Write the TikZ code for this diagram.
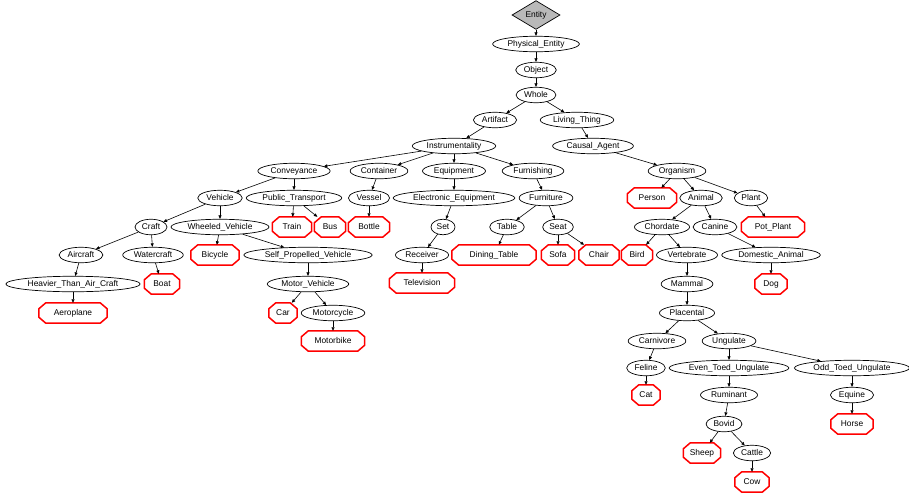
\documentclass[tikz,border=0pt]{standalone}
\usepackage{fontspec}
\setmainfont{Liberation Sans}
\usetikzlibrary{shapes.geometric,arrows.meta}

\begin{document}
\begin{tikzpicture}[x=1pt, y=-1pt,
    every node/.style={font=\fontsize{8.4}{10}\selectfont, text height=6pt, text depth=1.8pt},
    concept/.style={draw, ellipse, line width=0.7pt, inner xsep=2.2pt, inner ysep=1pt, minimum height=15.5pt},
    leaf/.style={rectangle, inner sep=0pt, minimum height=20pt, minimum width=#1},
    octagon/.style={draw=red, line width=1.5pt, line join=miter},
    root/.style={draw, diamond, fill=gray!55, line width=0.7pt, inner sep=0pt, minimum width=48pt, minimum height=22pt},
    link/.style={line width=0.6pt, -{Triangle[length=3.5pt,width=3pt]}}]
  \useasboundingbox (0,0) rectangle (909,493);

  % Top of the hierarchy
  \node[root] (entity) at (536,15) {Entity};
  \node[concept] (physical) at (536,44) {Physical\_Entity};
  \node[concept] (object) at (536,70) {Object};
  \node[concept] (whole) at (536,95) {Whole};
  \node[concept] (artifact) at (495,120) {Artifact};
  \node[concept] (living) at (577,120) {Living\_Thing};
  \node[concept] (instr) at (454,146) {Instrumentality};
  \node[concept] (causal) at (593,146) {Causal\_Agent};

  % Artifacts
  \node[concept] (conveyance) at (294,171) {Conveyance};
  \node[concept] (container) at (379,171) {Container};
  \node[concept] (equipment) at (454,171) {Equipment};
  \node[concept] (furnishing) at (533,171) {Furnishing};
  \node[concept] (vehicle) at (220,198) {Vehicle};
  \node[concept] (publictr) at (294,198) {Public\_Transport};
  \node[concept] (vessel) at (369,198) {Vessel};
  \node[concept] (electronic) at (454,198) {Electronic\_Equipment};
  \node[concept] (furniture) at (546,198) {Furniture};
  \node[concept] (craft) at (151,227) {Craft};
  \node[concept] (wheeled) at (220,227) {Wheeled\_Vehicle};
  \node[leaf=39pt] (train) at (292,227) {Train};
  \node[leaf=31pt] (bus) at (330,227) {Bus};
  \node[leaf=41pt] (bottle) at (369,227) {Bottle};
  \node[concept] (set) at (443,227) {Set};
  \node[concept] (table) at (507,227) {Table};
  \node[concept] (seat) at (558,227) {Seat};
  \node[concept] (aircraft) at (81,255) {Aircraft};
  \node[concept] (watercraft) at (153,255) {Watercraft};
  \node[leaf=48pt] (bicycle) at (215,255) {Bicycle};
  \node[concept] (selfprop) at (308,255) {Self\_Propelled\_Vehicle};
  \node[concept] (receiver) at (422,255) {Receiver};
  \node[leaf=84pt] (dining) at (494,255) {Dining\_Table};
  \node[leaf=33pt] (sofa) at (558,255) {Sofa};
  \node[leaf=40pt] (chair) at (599,255) {Chair};
  \node[concept] (heavier) at (73,284) {Heavier\_Than\_Air\_Craft};
  \node[leaf=35pt] (boat) at (162,284) {Boat};
  \node[concept] (motorveh) at (308,284) {Motor\_Vehicle};
  \node[leaf=65pt] (television) at (422,283) {Television};
  \node[leaf=68pt] (aeroplane) at (73,313) {Aeroplane};
  \node[leaf=28pt] (car) at (283,313) {Car};
  \node[concept] (motorcycle) at (333,313) {Motorcycle};
  \node[leaf=63pt] (motorbike) at (333,341) {Motorbike};

  % Living things
  \node[concept] (organism) at (677,171) {Organism};
  \node[leaf=49pt] (person) at (652,198) {Person};
  \node[concept] (animal) at (701,198) {Animal};
  \node[concept] (plant) at (751,198) {Plant};
  \node[concept] (chordate) at (662,227) {Chordate};
  \node[concept] (canine) at (715,227) {Canine};
  \node[leaf=63pt] (potplant) at (773,227) {Pot\_Plant};
  \node[leaf=31pt] (bird) at (637,255) {Bird};
  \node[concept] (vertebrate) at (687,255) {Vertebrate};
  \node[concept] (domestic) at (771,255) {Domestic\_Animal};
  \node[concept] (mammal) at (687,284) {Mammal};
  \node[leaf=32pt] (dog) at (771,284) {Dog};
  \node[concept] (placental) at (687,313) {Placental};
  \node[concept] (carnivore) at (657,341) {Carnivore};
  \node[concept] (ungulate) at (729,341) {Ungulate};
  \node[concept] (feline) at (646,368) {Feline};
  \node[concept] (eventoed) at (729,368) {Even\_Toed\_Ungulate};
  \node[concept] (oddtoed) at (852,368) {Odd\_Toed\_Ungulate};
  \node[leaf=28pt] (cat) at (646,395) {Cat};
  \node[concept] (ruminant) at (729,395) {Ruminant};
  \node[concept] (equine) at (852,395) {Equine};
  \node[concept] (bovid) at (724,424) {Bovid};
  \node[leaf=42pt] (horse) at (852,424) {Horse};
  \node[leaf=37pt] (sheep) at (702,453) {Sheep};
  \node[concept] (cattle) at (752,453) {Cattle};
  \node[leaf=34pt] (cow) at (752,482) {Cow};

  % Outline the leaves as octagons
  \foreach \n in {train, bus, bottle, bicycle, dining, sofa, chair, boat, television,
      aeroplane, car, motorbike, person, potplant, bird, dog, cat, horse, sheep, cow}
    \draw[octagon] ([xshift=7pt]\n.north west) -- ([xshift=-7pt]\n.north east)
      -- ([yshift=-6pt]\n.north east) -- ([yshift=6pt]\n.south east)
      -- ([xshift=-7pt]\n.south east) -- ([xshift=7pt]\n.south west)
      -- ([yshift=6pt]\n.south west) -- ([yshift=-6pt]\n.north west) -- cycle;

  % Connect parents to children
  \foreach \a/\b in {entity/physical, physical/object, object/whole, whole/artifact, whole/living,
      artifact/instr, living/causal, instr/conveyance, instr/container, instr/equipment,
      instr/furnishing, causal/organism, conveyance/vehicle, conveyance/publictr,
      container/vessel, equipment/electronic, furnishing/furniture, vehicle/craft,
      vehicle/wheeled, publictr/train, publictr/bus, vessel/bottle, electronic/set,
      furniture/table, furniture/seat, craft/aircraft, craft/watercraft, wheeled/bicycle,
      wheeled/selfprop, set/receiver, table/dining, seat/sofa, seat/chair,
      aircraft/heavier, watercraft/boat, selfprop/motorveh, receiver/television,
      heavier/aeroplane, motorveh/car, motorveh/motorcycle, motorcycle/motorbike,
      organism/person, organism/animal, organism/plant, animal/chordate, animal/canine,
      plant/potplant, chordate/bird, chordate/vertebrate, canine/domestic, domestic/dog,
      vertebrate/mammal, mammal/placental, placental/carnivore, placental/ungulate,
      carnivore/feline, feline/cat, ungulate/eventoed, ungulate/oddtoed,
      eventoed/ruminant, ruminant/bovid, bovid/sheep, bovid/cattle, cattle/cow,
      oddtoed/equine, equine/horse}
    \draw[link] (\a) -- (\b);
\end{tikzpicture}
\end{document}
